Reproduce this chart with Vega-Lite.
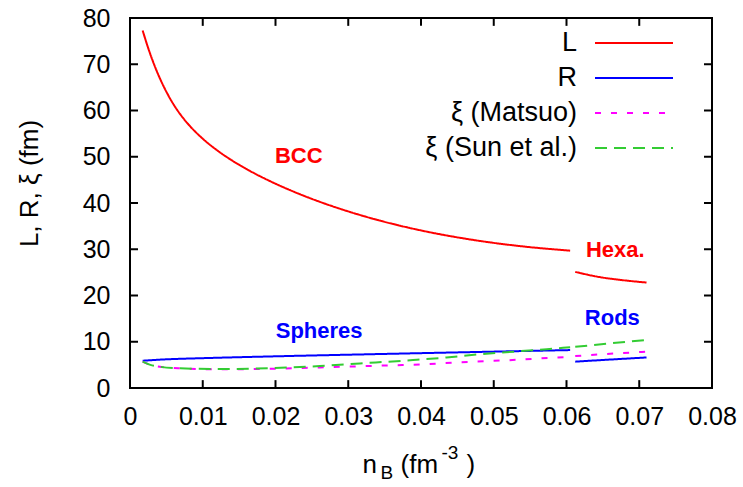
{
  "$schema": "https://vega.github.io/schema/vega-lite/v6.json",
  "width": 582,
  "height": 370,
  "autosize": "none",
  "padding": {"left": 130, "top": 18, "right": 31, "bottom": 99},
  "background": "white",
  "datasets": {
    "curves": [
      {"series": "L", "seg": "L-bcc", "n": 0.00174, "v": 77.3},
      {"series": "L", "seg": "L-bcc", "n": 0.0025, "v": 73.5},
      {"series": "L", "seg": "L-bcc", "n": 0.0035, "v": 69.2},
      {"series": "L", "seg": "L-bcc", "n": 0.0046, "v": 65.3},
      {"series": "L", "seg": "L-bcc", "n": 0.0058, "v": 61.8},
      {"series": "L", "seg": "L-bcc", "n": 0.0069, "v": 59.2},
      {"series": "L", "seg": "L-bcc", "n": 0.0082, "v": 56.7},
      {"series": "L", "seg": "L-bcc", "n": 0.0100, "v": 53.9},
      {"series": "L", "seg": "L-bcc", "n": 0.0120, "v": 51.36},
      {"series": "L", "seg": "L-bcc", "n": 0.0140, "v": 49.22},
      {"series": "L", "seg": "L-bcc", "n": 0.0165, "v": 46.92},
      {"series": "L", "seg": "L-bcc", "n": 0.0192, "v": 44.76},
      {"series": "L", "seg": "L-bcc", "n": 0.0225, "v": 42.45},
      {"series": "L", "seg": "L-bcc", "n": 0.0261, "v": 40.25},
      {"series": "L", "seg": "L-bcc", "n": 0.0300, "v": 38.18},
      {"series": "L", "seg": "L-bcc", "n": 0.0340, "v": 36.34},
      {"series": "L", "seg": "L-bcc", "n": 0.0399, "v": 34.1},
      {"series": "L", "seg": "L-bcc", "n": 0.0467, "v": 32.13},
      {"series": "L", "seg": "L-bcc", "n": 0.0536, "v": 30.68},
      {"series": "L", "seg": "L-bcc", "n": 0.0605, "v": 29.7},
      {"series": "L", "seg": "L-hex", "n": 0.0612, "v": 25.1},
      {"series": "L", "seg": "L-hex", "n": 0.0645, "v": 24.0},
      {"series": "L", "seg": "L-hex", "n": 0.0678, "v": 23.3},
      {"series": "L", "seg": "L-hex", "n": 0.071, "v": 22.8},
      {"series": "R", "seg": "R-sph", "n": 0.00174, "v": 5.9},
      {"series": "R", "seg": "R-sph", "n": 0.005, "v": 6.2},
      {"series": "R", "seg": "R-sph", "n": 0.01, "v": 6.45},
      {"series": "R", "seg": "R-sph", "n": 0.02, "v": 6.85},
      {"series": "R", "seg": "R-sph", "n": 0.033, "v": 7.3},
      {"series": "R", "seg": "R-sph", "n": 0.045, "v": 7.7},
      {"series": "R", "seg": "R-sph", "n": 0.0605, "v": 8.2},
      {"series": "R", "seg": "R-rod", "n": 0.0612, "v": 5.7},
      {"series": "R", "seg": "R-rod", "n": 0.066, "v": 6.15},
      {"series": "R", "seg": "R-rod", "n": 0.071, "v": 6.6},
      {"series": "ξ (Matsuo)", "seg": "M-sph", "n": 0.00174, "v": 5.7},
      {"series": "ξ (Matsuo)", "seg": "M-sph", "n": 0.0028, "v": 5.0},
      {"series": "ξ (Matsuo)", "seg": "M-sph", "n": 0.0041, "v": 4.6},
      {"series": "ξ (Matsuo)", "seg": "M-sph", "n": 0.0069, "v": 4.25},
      {"series": "ξ (Matsuo)", "seg": "M-sph", "n": 0.0124, "v": 4.05},
      {"series": "ξ (Matsuo)", "seg": "M-sph", "n": 0.0192, "v": 4.15},
      {"series": "ξ (Matsuo)", "seg": "M-sph", "n": 0.0261, "v": 4.45},
      {"series": "ξ (Matsuo)", "seg": "M-sph", "n": 0.0316, "v": 4.7},
      {"series": "ξ (Matsuo)", "seg": "M-sph", "n": 0.0357, "v": 4.9},
      {"series": "ξ (Matsuo)", "seg": "M-sph", "n": 0.0403, "v": 5.1},
      {"series": "ξ (Matsuo)", "seg": "M-sph", "n": 0.0447, "v": 5.5},
      {"series": "ξ (Matsuo)", "seg": "M-sph", "n": 0.049, "v": 5.8},
      {"series": "ξ (Matsuo)", "seg": "M-sph", "n": 0.0532, "v": 6.1},
      {"series": "ξ (Matsuo)", "seg": "M-sph", "n": 0.0575, "v": 6.5},
      {"series": "ξ (Matsuo)", "seg": "M-sph", "n": 0.0605, "v": 6.7},
      {"series": "ξ (Matsuo)", "seg": "M-rod", "n": 0.0612, "v": 6.9},
      {"series": "ξ (Matsuo)", "seg": "M-rod", "n": 0.066, "v": 7.4},
      {"series": "ξ (Matsuo)", "seg": "M-rod", "n": 0.071, "v": 7.85},
      {"series": "ξ (Sun et al.)", "seg": "S-sph", "n": 0.00174, "v": 5.7},
      {"series": "ξ (Sun et al.)", "seg": "S-sph", "n": 0.0028, "v": 5.0},
      {"series": "ξ (Sun et al.)", "seg": "S-sph", "n": 0.0041, "v": 4.6},
      {"series": "ξ (Sun et al.)", "seg": "S-sph", "n": 0.0069, "v": 4.25},
      {"series": "ξ (Sun et al.)", "seg": "S-sph", "n": 0.0124, "v": 4.1},
      {"series": "ξ (Sun et al.)", "seg": "S-sph", "n": 0.0192, "v": 4.3},
      {"series": "ξ (Sun et al.)", "seg": "S-sph", "n": 0.0261, "v": 4.75},
      {"series": "ξ (Sun et al.)", "seg": "S-sph", "n": 0.0316, "v": 5.3},
      {"series": "ξ (Sun et al.)", "seg": "S-sph", "n": 0.0389, "v": 6.05},
      {"series": "ξ (Sun et al.)", "seg": "S-sph", "n": 0.0435, "v": 6.6},
      {"series": "ξ (Sun et al.)", "seg": "S-sph", "n": 0.0481, "v": 7.3},
      {"series": "ξ (Sun et al.)", "seg": "S-sph", "n": 0.0527, "v": 7.85},
      {"series": "ξ (Sun et al.)", "seg": "S-sph", "n": 0.0573, "v": 8.4},
      {"series": "ξ (Sun et al.)", "seg": "S-sph", "n": 0.0605, "v": 8.8},
      {"series": "ξ (Sun et al.)", "seg": "S-rod", "n": 0.0612, "v": 8.9},
      {"series": "ξ (Sun et al.)", "seg": "S-rod", "n": 0.066, "v": 9.65},
      {"series": "ξ (Sun et al.)", "seg": "S-rod", "n": 0.071, "v": 10.4}
    ],
    "labels": [
      {"text": "BCC", "series": "L", "n": 0.0232, "v": 50.2},
      {"text": "Hexa.", "series": "L", "n": 0.0667, "v": 29.9},
      {"text": "Spheres", "series": "R", "n": 0.026, "v": 12.4},
      {"text": "Rods", "series": "R", "n": 0.0663, "v": 15.2}
    ],
    "xticks": [
      {"value": 0.01}, {"value": 0.02}, {"value": 0.03}, {"value": 0.04},
      {"value": 0.05}, {"value": 0.06}, {"value": 0.07}
    ],
    "yticks": [
      {"value": 10}, {"value": 20}, {"value": 30}, {"value": 40},
      {"value": 50}, {"value": 60}, {"value": 70}
    ]
  },
  "layer": [
    {
      "data": {"name": "curves"},
      "mark": {"type": "line", "strokeWidth": 2, "interpolate": "monotone"},
      "encoding": {
        "x": {
          "field": "n", "type": "quantitative",
          "scale": {"domain": [0, 0.08], "nice": false, "zero": false},
          "axis": {
            "orient": "bottom",
            "values": [0, 0.01, 0.02, 0.03, 0.04, 0.05, 0.06, 0.07, 0.08],
            "format": ".2~f",
            "ticks": false, "tickSize": 0, "grid": false,
            "labelPadding": 16, "labelOverlap": false, "labelFlush": false,
            "title": "n",
            "titleX": 232, "titleY": 84,
            "titleAlign": "left", "titleBaseline": "alphabetic"
          }
        },
        "y": {
          "field": "v", "type": "quantitative",
          "scale": {"domain": [0, 80], "nice": false},
          "axis": {
            "orient": "left",
            "values": [0, 10, 20, 30, 40, 50, 60, 70, 80],
            "ticks": false, "tickSize": 0, "grid": false,
            "labelPadding": 20, "labelOverlap": false, "labelFlush": false,
            "title": "L, R, ξ (fm)",
            "titleX": -101, "titleY": 165,
            "titleAngle": -90, "titleAlign": "center", "titleBaseline": "middle"
          }
        },
        "color": {
          "field": "series", "type": "nominal",
          "scale": {
            "domain": ["L", "R", "ξ (Matsuo)", "ξ (Sun et al.)"],
            "range": ["#ff0000", "#0000ff", "#ff00ff", "#33cc33"]
          },
          "legend": {
            "orient": "none", "legendX": 490, "legendY": 11,
            "title": null, "padding": 0,
            "symbolType": "M-3,0H3", "symbolSize": 676, "symbolStrokeWidth": 2,
            "labelFont": "Liberation Sans", "labelFontSize": 27, "labelColor": "black",
            "labelAlign": "right", "labelOffset": -71, "labelLimit": 300,
            "rowPadding": 8
          }
        },
        "strokeDash": {
          "field": "series", "type": "nominal",
          "scale": {
            "domain": ["L", "R", "ξ (Matsuo)", "ξ (Sun et al.)"],
            "range": [[1, 0], [1, 0], [6, 10], [12, 7]]
          },
          "legend": {
            "orient": "none", "legendX": 490, "legendY": 11,
            "title": null, "padding": 0,
            "symbolType": "M-3,0H3", "symbolSize": 676, "symbolStrokeWidth": 2,
            "labelFont": "Liberation Sans", "labelFontSize": 27, "labelColor": "black",
            "labelAlign": "right", "labelOffset": -71, "labelLimit": 300,
            "rowPadding": 8
          }
        },
        "detail": {"field": "seg", "type": "nominal"}
      }
    },
    {
      "data": {"name": "labels"},
      "transform": [{"filter": "datum.series == 'L'"}],
      "mark": {"type": "text", "font": "Liberation Sans", "fontSize": 22, "fontWeight": "bold", "align": "center", "baseline": "middle"},
      "encoding": {
        "x": {
          "field": "n", "type": "quantitative",
          "axis": {
            "orient": "top",
            "ticks": false, "labels": false, "grid": false,
            "title": "B",
            "titleFontSize": 19,
            "titleX": 250, "titleY": 460,
            "titleAlign": "left", "titleBaseline": "alphabetic"
          }
        },
        "y": {
          "field": "v", "type": "quantitative",
          "axis": {
            "orient": "right",
            "ticks": false, "labels": false, "grid": false,
            "title": "(fm",
            "titleX": -312, "titleY": 454,
            "titleAngle": 0, "titleAlign": "left", "titleBaseline": "alphabetic"
          }
        },
        "text": {"field": "text", "type": "nominal"},
        "color": {"field": "series", "type": "nominal", "legend": null}
      }
    },
    {
      "data": {"name": "labels"},
      "transform": [{"filter": "datum.series == 'R'"}],
      "mark": {"type": "text", "font": "Liberation Sans", "fontSize": 22, "fontWeight": "bold", "align": "center", "baseline": "middle"},
      "encoding": {
        "x": {
          "field": "n", "type": "quantitative",
          "axis": {
            "orient": "bottom",
            "ticks": false, "labels": false, "grid": false,
            "title": "-3",
            "titleFontSize": 19,
            "titleX": 311, "titleY": 70,
            "titleAlign": "left", "titleBaseline": "alphabetic"
          }
        },
        "y": {
          "field": "v", "type": "quantitative",
          "axis": {
            "orient": "left",
            "ticks": false, "labels": false, "grid": false,
            "title": ")",
            "titleX": 336, "titleY": 454,
            "titleAngle": 0, "titleAlign": "left", "titleBaseline": "alphabetic"
          }
        },
        "text": {"field": "text", "type": "nominal"},
        "color": {"field": "series", "type": "nominal", "legend": null}
      }
    },
    {
      "data": {"name": "xticks"},
      "mark": {"type": "rule", "strokeWidth": 2, "color": "#000000", "opacity": 1},
      "encoding": {
        "x": {"field": "value", "type": "quantitative", "axis": null},
        "y": {"datum": 0, "type": "quantitative", "axis": null},
        "y2": {"datum": 1.7}
      }
    },
    {
      "data": {"name": "xticks"},
      "mark": {"type": "rule", "strokeWidth": 2, "color": "#000000", "opacity": 1},
      "encoding": {
        "x": {"field": "value", "type": "quantitative", "axis": null},
        "y": {"datum": 80, "type": "quantitative", "axis": null},
        "y2": {"datum": 78.3}
      }
    },
    {
      "data": {"name": "yticks"},
      "mark": {"type": "rule", "strokeWidth": 2, "color": "#000000", "opacity": 1},
      "encoding": {
        "y": {"field": "value", "type": "quantitative", "axis": null},
        "x": {"datum": 0, "type": "quantitative", "axis": null},
        "x2": {"datum": 0.0011}
      }
    },
    {
      "data": {"name": "yticks"},
      "mark": {"type": "rule", "strokeWidth": 2, "color": "#000000", "opacity": 1},
      "encoding": {
        "y": {"field": "value", "type": "quantitative", "axis": null},
        "x": {"datum": 0.08, "type": "quantitative", "axis": null},
        "x2": {"datum": 0.0789}
      }
    }
  ],
  "resolve": {"axis": {"x": "independent", "y": "independent"}},
  "config": {
    "view": {"stroke": "black", "strokeWidth": 2},
    "axis": {
      "domain": false,
      "labelFont": "Liberation Sans", "labelFontSize": 25, "labelColor": "black",
      "titleFont": "Liberation Sans", "titleFontSize": 26, "titleFontWeight": "normal", "titleColor": "black"
    }
  }
}
